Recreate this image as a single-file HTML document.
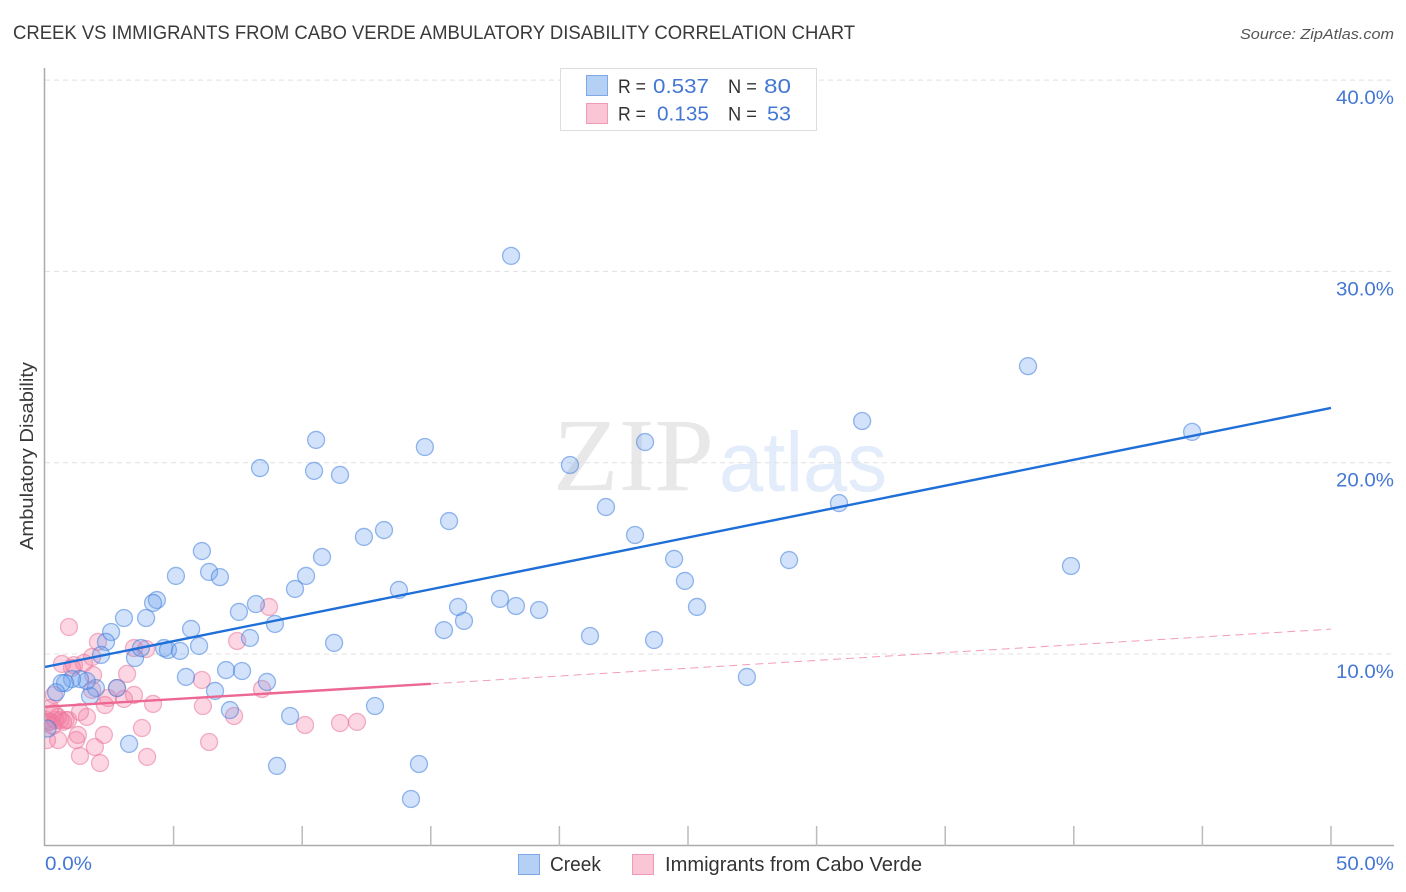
<!DOCTYPE html>
<html lang="en">
<head>
<meta charset="utf-8">
<title>Creek vs Immigrants from Cabo Verde Ambulatory Disability Correlation Chart</title>
<style>
html,body{margin:0;padding:0;background:#fff;width:1406px;height:892px;overflow:hidden}
svg{display:block;font-family:"Liberation Sans",sans-serif}
</style>
</head>
<body>
<svg id="chart" width="1406" height="892" viewBox="0 0 1406 892" xmlns="http://www.w3.org/2000/svg">
  <defs>
    <clipPath id="plot-clip"><rect x="45" y="60" width="1349" height="786"/></clipPath>
  </defs>
  <rect x="0" y="0" width="1406" height="892" fill="#ffffff"/>
  <text x="13" y="39" font-size="19" fill="#3a3a3a" textLength="842" lengthAdjust="spacingAndGlyphs">CREEK VS IMMIGRANTS FROM CABO VERDE AMBULATORY DISABILITY CORRELATION CHART</text>
  <text x="1394" y="39" font-size="15" font-style="italic" fill="#555" text-anchor="end" textLength="154" lengthAdjust="spacingAndGlyphs">Source: ZipAtlas.com</text>
  <g>
    <text x="553" y="490" font-family="'Liberation Serif',serif" font-size="104" fill="#e8e8e8" textLength="161" lengthAdjust="spacingAndGlyphs">ZIP</text>
    <text x="719" y="491" font-size="84" fill="#e3ecfa" textLength="168" lengthAdjust="spacingAndGlyphs">atlas</text>
  </g>
  <g id="grid"></g>
  <g id="axes"></g>
  <g clip-path="url(#plot-clip)">
    <g id="points-pink"></g>
    <g id="points-blue"></g>
    <g id="trends"></g>
  </g>
  <text transform="translate(33,456) rotate(-90)" font-size="18" fill="#3a3a3a" text-anchor="middle" textLength="188" lengthAdjust="spacingAndGlyphs">Ambulatory Disability</text>
  <g>
    <rect x="560.5" y="68.5" width="256" height="62" fill="#ffffff" stroke="#dddddd" stroke-width="1"/>
    <rect x="586.5" y="75.5" width="21" height="20" fill="#b5d0f5" stroke="#7fa9e6" stroke-width="1"/>
    <rect x="586.5" y="103.5" width="21" height="20" fill="#fac6d6" stroke="#f09ab5" stroke-width="1"/>
    <text x="618" y="93" font-size="19" fill="#333" textLength="28" lengthAdjust="spacingAndGlyphs">R =</text>
    <text x="653" y="93" font-size="20.5" fill="#4577d4" textLength="56" lengthAdjust="spacingAndGlyphs">0.537</text>
    <text x="728" y="93" font-size="19" fill="#333" textLength="29" lengthAdjust="spacingAndGlyphs">N =</text>
    <text x="764" y="93" font-size="20.5" fill="#4577d4" textLength="27" lengthAdjust="spacingAndGlyphs">80</text>
    <text x="618" y="120.500" font-size="19" fill="#333" textLength="28" lengthAdjust="spacingAndGlyphs">R =</text>
    <text x="657" y="120.500" font-size="20.5" fill="#4577d4" textLength="52" lengthAdjust="spacingAndGlyphs">0.135</text>
    <text x="728" y="120.500" font-size="19" fill="#333" textLength="29" lengthAdjust="spacingAndGlyphs">N =</text>
    <text x="767" y="120.500" font-size="20.5" fill="#4577d4" textLength="24" lengthAdjust="spacingAndGlyphs">53</text>
  </g>
  <g>
    <rect x="518.5" y="854.5" width="21" height="20" fill="#b5d0f5" stroke="#7fa9e6" stroke-width="1"/>
    <text x="550" y="871" font-size="20" fill="#333" textLength="51" lengthAdjust="spacingAndGlyphs">Creek</text>
    <rect x="632.5" y="854.5" width="21" height="20" fill="#fac6d6" stroke="#f09ab5" stroke-width="1"/>
    <text x="665" y="871" font-size="20" fill="#333" textLength="257" lengthAdjust="spacingAndGlyphs">Immigrants from Cabo Verde</text>
  </g>
</svg>
<script>
var xTickValues = [0, 5, 10, 15, 20, 25, 30, 35, 40, 45, 50];
var xLabelValues = [0, 50];
var xTickLabels = ['0.0%', '50.0%'];
var yTickValues = [10, 20, 30, 40];
var yTickLabels = ['10.0%', '20.0%', '30.0%', '40.0%'];

var creekX = [18.12,38.22,44.60,31.77,23.33,14.77,10.54,8.36,10.46,11.47,20.41,30.87,21.81,15.71,13.18,12.40,22.94,10.77,6.10,5.09,6.38,6.80,10.15,9.72,13.76,24.46,28.93,39.89,24.88,25.35,17.69,18.31,16.06,19.21,16.29,15.51,21.19,23.68,11.24,7.97,8.94,8.20,7.54,4.35,4.20,3.07,3.93,2.57,2.37,2.18,3.50,4.63,4.78,5.25,3.73,5.68,5.99,7.04,7.66,5.48,8.63,6.61,7.19,12.83,9.53,3.27,9.02,14.54,14.23,27.29,2.80,1.98,1.75,1.62,1.36,1.05,0.78,0.65,0.43,0.10];
var creekY = [30.81,25.05,21.61,22.18,21.08,20.82,21.19,19.72,19.57,19.36,19.88,17.89,17.68,16.95,16.48,16.12,16.22,15.07,15.38,14.08,14.29,14.02,14.08,13.40,13.35,14.97,14.91,14.60,13.82,12.46,12.88,12.51,12.46,12.30,11.73,11.25,10.94,10.73,10.58,10.84,11.57,12.61,12.20,12.82,12.67,11.88,11.88,11.15,10.63,9.95,9.79,10.31,10.21,10.16,10.31,11.31,10.42,9.16,9.11,8.80,8.54,8.07,7.07,7.28,6.76,5.30,4.15,4.25,2.42,8.80,8.22,8.22,7.80,8.59,8.69,8.69,8.48,8.48,8.00,6.10];

var caboVerdeX = [0.93,2.06,3.46,3.93,0.66,1.13,1.52,1.83,1.87,3.19,3.46,3.07,2.45,2.33,4.20,2.80,1.83,6.10,6.14,7.47,8.71,8.44,7.35,6.38,3.77,3.97,2.14,1.36,1.94,2.29,1.21,1.28,1.63,1.36,0.51,0.08,0.04,0.20,0.40,0.60,0.80,0.35,0.12,0.30,0.50,0.70,0.90,10.11,11.47,12.13,0.35,0.20,1.05];
var caboVerdeY = [11.41,10.63,10.31,10.26,9.48,9.42,9.53,9.84,8.90,8.96,7.86,7.65,7.70,7.33,7.39,8.22,8.12,8.64,7.28,10.68,12.46,8.17,6.76,5.40,6.13,4.62,4.30,4.67,5.14,5.77,5.50,5.77,6.71,6.97,5.50,5.50,6.55,6.45,6.55,6.55,6.55,6.92,6.45,6.24,6.71,6.45,6.55,6.29,6.39,6.45,7.86,7.18,9.27];

var creekTrendX = [0, 50];
var creekTrendY = [9.32, 22.86];
var caboSolidX = [0, 15];
var caboSolidY = [7.24, 8.44];
var caboDashX = [15, 50];
var caboDashY = [8.44, 11.30];

var SVG_NS = 'http://www.w3.org/2000/svg';
function xScale(v) { return 45 + v * 25.72; }
function yScale(v) { return 845.3 - v * 19.13; }
function make(tag, parent, attrs) {
  var el = document.createElementNS(SVG_NS, tag);
  for (var k in attrs) { el.setAttribute(k, attrs[k]); }
  parent.appendChild(el);
  return el;
}

var grid = document.getElementById('grid');
var axes = document.getElementById('axes');

yTickValues.forEach(function (v, i) {
  var line = make('line', grid, {x1: 45, x2: 1394, y1: yScale(v), y2: yScale(v), stroke: '#e0e0e0', 'stroke-width': 1, 'stroke-dasharray': '5 4'});
  
  
  var label = make('text', axes, {x: 1394, y: yScale(v) + 24, 'text-anchor': 'end', 'font-size': 19.5, fill: '#4577d4', textLength: 58, lengthAdjust: 'spacingAndGlyphs'});
  label.textContent = yTickLabels[i];
  
  
});

var yAxis = make('line', axes, {x1: 44.5, x2: 44.5, y1: 68, y2: 846, stroke: '#aaaaaa', 'stroke-width': 1.5});


var xAxis = make('line', axes, {x1: 44, x2: 1394, y1: 845.5, y2: 845.5, stroke: '#aaaaaa', 'stroke-width': 1.5});



xTickValues.forEach(function (v) {
  if (v === 0) { return; }
  var tick = make('line', axes, {x1: xScale(v), x2: xScale(v), y1: 826, y2: 846, stroke: '#bbbbbb', 'stroke-width': 1.5});
  
  
});
xLabelValues.forEach(function (v, i) {
  var isLast = i === xLabelValues.length - 1;
  var label = make('text', axes, {x: isLast ? 1394 : xScale(v), y: 870, 'text-anchor': isLast ? 'end' : 'start', 'font-size': 19.5, fill: '#4577d4', textLength: isLast ? 58 : 47, lengthAdjust: 'spacingAndGlyphs'});
  label.textContent = xTickLabels[i];
  
  
});

function drawPoints(parentId, xs, ys, fill, stroke, name) {
  var parent = document.getElementById(parentId);
  xs.forEach(function (x, i) {
    var c = make('circle', parent, {cx: xScale(x), cy: yScale(ys[i]), r: 8.5, fill: fill, 'fill-opacity': 0.31, stroke: stroke, 'stroke-opacity': 0.55, 'stroke-width': 1.3});
    
    
  });
}
drawPoints('points-pink', caboVerdeX, caboVerdeY, '#f47fa4', '#e8749a', 'cabo-verde-point');
drawPoints('points-blue', creekX, creekY, '#6da3ee', '#3f7fdc', 'creek-point');

var trends = document.getElementById('trends');
var tCreek = make('line', trends, {x1: xScale(creekTrendX[0]), y1: yScale(creekTrendY[0]), x2: xScale(creekTrendX[1]), y2: yScale(creekTrendY[1]), stroke: '#1f6fd8', 'stroke-width': 2.4});


var tCabo = make('line', trends, {x1: xScale(caboSolidX[0]), y1: yScale(caboSolidY[0]), x2: xScale(caboSolidX[1]), y2: yScale(caboSolidY[1]), stroke: '#ec6792', 'stroke-width': 2.4});


var tCaboDash = make('line', trends, {x1: xScale(caboDashX[0]), y1: yScale(caboDashY[0]), x2: xScale(caboDashX[1]), y2: yScale(caboDashY[1]), stroke: '#ec6792', 'stroke-width': 1, 'stroke-dasharray': '8 5', 'stroke-opacity': 0.65});


</script>
</body>
</html>
